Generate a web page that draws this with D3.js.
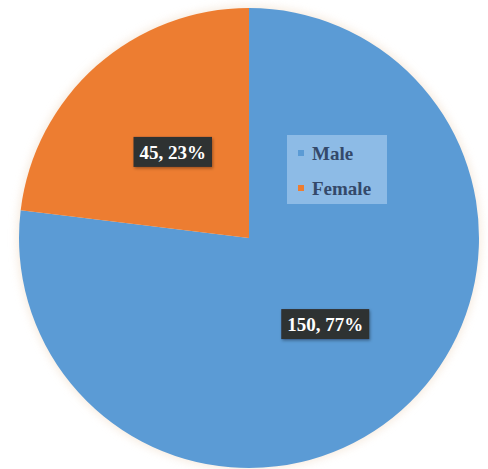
<!DOCTYPE html>
<html>
<head>
<meta charset="utf-8">
<script src="https://cdn.jsdelivr.net/npm/d3@7"></script>
<style>
  body { margin: 0; background: #fff; }
  svg { display: block; }
  .serif { font-family: "Liberation Serif", "DejaVu Serif", "Times New Roman", serif; font-weight: bold; }
</style>
</head>
<body>
<div id="chart"></div>
<script>
// chart data
const categories = ["Male", "Female"];
const counts = [150, 45];
const colors = ["#5b9bd5", "#ed7d31"];

const width = 488, height = 469;
const cx = 249, cy = 238, radius = 230;

const data = categories.map((c, i) => ({ name: c, value: counts[i], color: colors[i] }));
const total = d3.sum(counts);

const svg = d3.select("#chart")
  .append("svg")
  .attr("width", width)
  .attr("height", height);

const defs = svg.append("defs");
const glow = defs.append("filter").attr("id", "glow")
  .attr("x", "-10%").attr("y", "-10%").attr("width", "120%").attr("height", "120%");
glow.append("feGaussianBlur").attr("stdDeviation", 4);

const lblShadow = defs.append("filter").attr("id", "lblShadow")
  .attr("x", "-20%").attr("y", "-30%").attr("width", "140%").attr("height", "160%");
lblShadow.append("feDropShadow").attr("dx", 1).attr("dy", 1.5)
  .attr("stdDeviation", 1.5).attr("flood-color", "#000").attr("flood-opacity", 0.35);

const g = svg.append("g").attr("transform", `translate(${cx},${cy})`);

// soft halo around the pie
g.append("circle")
  .attr("r", radius + 2)
  .attr("fill", "#f3e3d2")
  .attr("opacity", 0.7)
  .attr("filter", "url(#glow)");

const pie = d3.pie().sort(null).value(d => d.value);
const arc = d3.arc().innerRadius(0).outerRadius(radius);
const arcs = pie(data);

g.selectAll("path.slice")
  .data(arcs)
  .enter()
  .append("path")
  .attr("class", "slice")
  .attr("d", arc)
  .attr("fill", d => d.data.color);

// data labels: "value, percent" in dark boxes
const labels = g.selectAll("g.lbl")
  .data(arcs)
  .enter()
  .append("g")
  .attr("class", "lbl")
  .attr("transform", d => `translate(${arc.centroid(d)})`);

labels.each(function(d) {
  const lg = d3.select(this);
  const txt = `${d.data.value}, ${Math.round(d.data.value / total * 100)}%`;
  const rect = lg.append("rect").attr("fill", "#2f3032").attr("filter", "url(#lblShadow)");
  const t = lg.append("text")
    .attr("class", "serif")
    .attr("text-anchor", "middle")
    .attr("dy", "0.35em")
    .attr("fill", "#fff")
    .attr("font-size", 19)
    .text(txt);
  const bb = t.node().getBBox();
  rect.attr("x", bb.x - 6).attr("y", -15)
    .attr("width", bb.width + 12).attr("height", 30);
});

// legend
const legend = svg.append("g").attr("transform", "translate(287,135)");
legend.append("rect")
  .attr("width", 100).attr("height", 69)
  .attr("fill", "#8dbbe6");

const items = legend.selectAll("g.item")
  .data(data)
  .enter()
  .append("g")
  .attr("class", "item")
  .attr("transform", (d, i) => `translate(11,${18 + i * 35})`);

items.append("rect")
  .attr("x", 0).attr("y", -3)
  .attr("width", 6).attr("height", 6)
  .attr("fill", d => d.color);

items.append("text")
  .attr("class", "serif")
  .attr("x", 14)
  .attr("dy", "0.35em")
  .attr("fill", "#34496a")
  .attr("font-size", 19)
  .text(d => d.name);
</script>
</body>
</html>
